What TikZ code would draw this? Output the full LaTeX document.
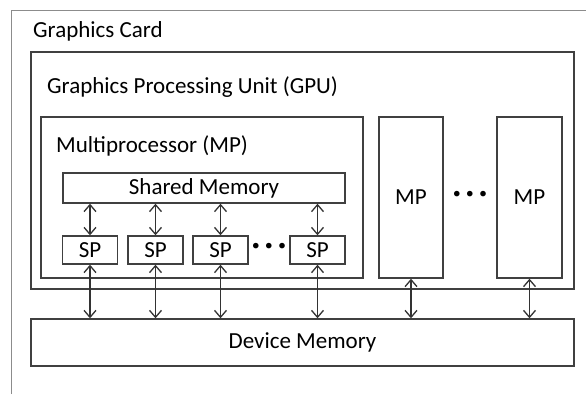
\documentclass[tikz,border=0pt]{standalone}
\usepackage{fontspec}
\setmainfont{Carlito}
\usetikzlibrary{arrows.meta}

\tikzset{
  box/.style={shape=rectangle,draw=black!75,line width=1.4pt,inner sep=0pt},
  lbl/.style={anchor=west,inner sep=0pt,font=\fontsize{23}{26}\selectfont},
  txt/.style={font=\fontsize{23}{26}\selectfont},
  dots/.style={font=\fontsize{30}{32}\selectfont\bfseries},
  bus/.style={{Straight Barb[length=7pt,width=12pt]}-{Straight Barb[length=7pt,width=12pt]},draw=black!80,line width=1.3pt}
}

\begin{document}
\begin{tikzpicture}[x=1pt,y=-1pt]
\useasboundingbox (0,0) rectangle (586,394);

%draw graphics card frame
\draw [black!45,line width=0.8pt] (11,394) |- (586,10);
\node [lbl] at (33,31) (card) {Graphics Card};

%draw gpu with its label
\node [box, minimum width = 543pt,minimum height=237pt] at (302.5,170.5) (gpu) {};
\node [lbl] at (47,87) (gpu_lbl) {Graphics Processing Unit (GPU)};

%draw first multiprocessor
\node [box, minimum width = 322pt,minimum height=161pt] at (202,197.5) (mp) {};
\node [lbl] at (56,146) (mp_lbl) {Multiprocessor (MP)};
\node [box, minimum width = 282pt,minimum height=30pt,txt] at (204,188) (shm) {Shared Memory};

%streaming processors
\node [box, minimum width = 55pt,minimum height=28pt,txt] at (90,250) (sp1) {SP};
\node [box, minimum width = 55pt,minimum height=28pt,txt] at (155.5,250) (sp2) {SP};
\node [box, minimum width = 55pt,minimum height=28pt,txt] at (220.5,250) (sp3) {SP};
\node [dots] at (269,249) (sp_dots) {·\,·\,·};
\node [box, minimum width = 55pt,minimum height=28pt,txt] at (317.5,250) (sp4) {SP};

%other multiprocessors
\node [box, minimum width = 64pt,minimum height=161pt,txt] at (411,197.5) (mp2) {MP};
\node [dots] at (470,196.5) (mp_dots) {·\,·\,·};
\node [box, minimum width = 65pt,minimum height=161pt,txt] at (529.5,197.5) (mp3) {MP};

%draw device memory
\node [box, minimum width = 543pt,minimum height=47pt,txt] at (302.5,342.5) (dev) {Device Memory};

%arrows between shared memory and SPs
\foreach \s in {sp1,sp2,sp3,sp4}
  \draw [bus] (\s.north |- shm.south) -- (\s.north);

%arrows down to device memory
\foreach \s in {sp1,sp2,sp3,sp4,mp2,mp3}
  \draw [bus] (\s.south) -- (\s.south |- dev.north);
\end{tikzpicture}
\end{document}
